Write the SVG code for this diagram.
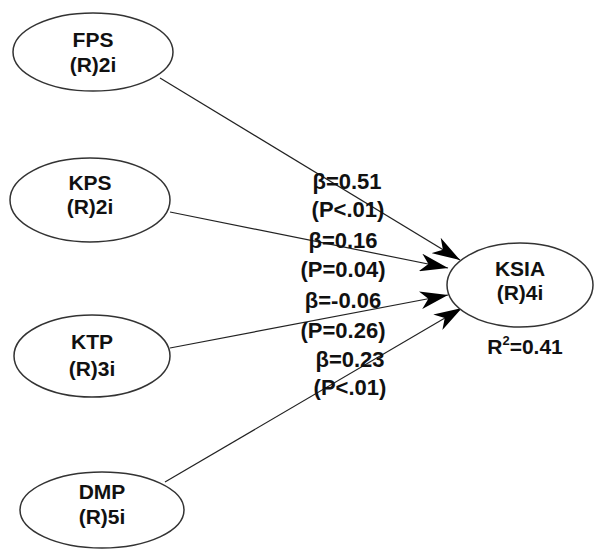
<svg xmlns="http://www.w3.org/2000/svg" width="595" height="552" viewBox="0 0 595 552">
<defs>
<marker id="ah" viewBox="0 0 28 18" refX="28" refY="9" markerWidth="28" markerHeight="18" markerUnits="userSpaceOnUse" orient="auto">
<path d="M0,0 L28,9 L0,18 L8,9 Z" fill="#000"/>
</marker>
<style>
.n ellipse{fill:#fff;stroke:#333;stroke-width:1.5}
text{font-family:"Liberation Sans",Arial,sans-serif;font-weight:bold;font-size:21px;fill:#111;text-anchor:middle}
#labels text{font-size:22px}
.c line{stroke:#222;stroke-width:1.2;marker-end:url(#ah)}
</style>
</defs>
<rect width="595" height="552" fill="#fff"/>
<g class="c" id="connectors">
<line x1="160" y1="78" x2="460" y2="260"/>
<line x1="170" y1="212" x2="448" y2="268"/>
<line x1="170" y1="348" x2="448" y2="295"/>
<line x1="165" y1="482" x2="462" y2="308"/>
</g>
<g id="labels">
<text x="347" y="189">β=0.51</text>
<text x="348" y="217">(P&lt;.01)</text>
<text x="343" y="248">β=0.16</text>
<text x="343" y="277">(P=0.04)</text>
<text x="343" y="308">β=-0.06</text>
<text x="343" y="338">(P=0.26)</text>
<text x="350" y="367">β=0.23</text>
<text x="350" y="395">(P&lt;.01)</text>
</g>
<g class="n" id="FPS"><ellipse cx="93" cy="52" rx="80" ry="39"/><text x="93" y="47">FPS</text><text x="93" y="72">(R)2i</text></g>
<g class="n" id="KPS"><ellipse cx="90" cy="200" rx="80" ry="42"/><text x="90" y="190">KPS</text><text x="90" y="214">(R)2i</text></g>
<g class="n" id="KTP"><ellipse cx="92" cy="356" rx="78" ry="41"/><text x="92" y="349">KTP</text><text x="92" y="376">(R)3i</text></g>
<g class="n" id="DMP"><ellipse cx="102" cy="510" rx="82" ry="38"/><text x="102" y="499">DMP</text><text x="102" y="524">(R)5i</text></g>
<g class="n" id="KSIA"><ellipse cx="520" cy="285" rx="73" ry="42"/><text x="520" y="276">KSIA</text><text x="520" y="300">(R)4i</text><text x="525" y="354">R<tspan dy="-9" font-size="13">2</tspan><tspan dy="9">=0.41</tspan></text></g>
</svg>
